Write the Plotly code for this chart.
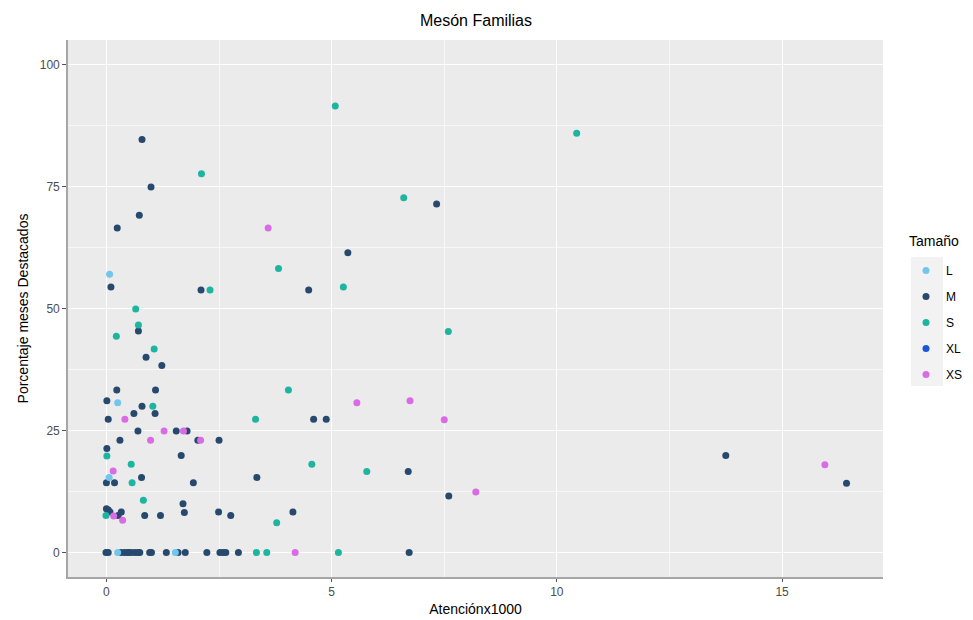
import plotly.graph_objects as go

# ---- data ----
sizes = ["L", "M", "S", "XL", "XS"]

L_x = [0.07, 0.25, 0.06, 0.25, 1.53]
L_y = [57.0, 30.7, 15.4, 0.0, 0.0]

M_x = [0.79, 0.99, 0.73, 0.24, 7.33, 5.36, 0.10, 2.10, 4.49, 0.71, 0.88, 1.23,
       0.23, 1.09, 0.01, 0.79, 0.61, 1.08, 0.04, 4.60, 4.88, 0.70, 1.55, 1.79,
       0.30, 2.03, 2.50, 0.01, 1.66, 13.75, 6.70, 0.78, 3.34, 0.00, 0.18, 1.93,
       16.43, 7.60, 1.70, 0.00, 0.04, 0.08, 0.26, 0.33, 0.85, 1.20, 1.73, 2.49,
       2.76, 4.14,
       -0.01, 0.04, 0.32, 0.40, 0.48, 0.55, 0.63, 0.70, 0.74, 0.96, 1.00, 1.33,
       1.59, 1.75, 2.23, 2.52, 2.59, 2.65, 2.93, 6.72]
M_y = [84.6, 74.9, 69.1, 66.5, 71.4, 61.4, 54.4, 53.8, 53.8, 45.4, 40.0, 38.3,
       33.3, 33.3, 31.1, 30.0, 28.5, 28.5, 27.3, 27.3, 27.3, 24.9, 24.9, 24.9,
       23.0, 23.0, 23.0, 21.3, 19.9, 19.9, 16.6, 15.4, 15.4, 14.3, 14.3, 14.3,
       14.2, 11.6, 10.0, 9.0, 8.7, 8.3, 7.6, 8.3, 7.6, 7.6, 8.2, 8.3,
       7.6, 8.3,
       0, 0, 0, 0, 0, 0, 0, 0, 0, 0, 0, 0,
       0, 0, 0, 0, 0, 0, 0, 0]

S_x = [5.08, 10.44, 2.11, 6.60, 3.82, 5.26, 2.30, 0.65, 0.71, 7.59, 0.22, 1.06,
       4.04, 1.03, 3.31, 0.01, 0.55, 4.56, 5.78, 0.57, 0.82, -0.01, 3.78,
       3.33, 3.56, 5.15]
S_y = [91.5, 85.9, 77.6, 72.7, 58.2, 54.4, 53.8, 49.9, 46.6, 45.3, 44.3, 41.7,
       33.3, 30.0, 27.3, 19.8, 18.1, 18.1, 16.6, 14.3, 10.7, 7.6, 6.1,
       0, 0, 0]

XL_x = [0.48]
XL_y = [0.0]

XS_x = [3.59, 6.74, 5.56, 0.41, 7.50, 1.28, 1.71, 0.98, 2.09, 15.95, 0.15, 8.20,
        0.16, 0.36, 4.19]
XS_y = [66.5, 31.1, 30.7, 27.3, 27.2, 24.9, 24.9, 23.0, 23.0, 18.0, 16.7, 12.4,
        7.5, 6.6, 0.0]

colors = {"L": "#72C6EE", "M": "#27496D", "S": "#1DB59F", "XL": "#1A56D8", "XS": "#DA6BE6"}
xs = {"L": L_x, "M": M_x, "S": S_x, "XL": XL_x, "XS": XS_x}
ys = {"L": L_y, "M": M_y, "S": S_y, "XL": XL_y, "XS": XS_y}

x_ticks = [0, 5, 10, 15]
y_ticks = [0, 25, 50, 75, 100]
legend_title = "Tamaño"

FONT = "Liberation Sans, Arial, sans-serif"

fig = go.Figure()
draw_order = ["XL", "M", "L", "S", "XS"]
for s in draw_order:
    fig.add_trace(go.Scatter(
        x=xs[s], y=ys[s], mode="markers", name=s, legendgroup=s,
        legendrank=sizes.index(s) + 1,
        marker=dict(size=7, color=colors[s], line=dict(width=0)),
    ))

W, H = 973, 620
L_M, R_M, T_M, B_M = 68, 90, 40, 43
pw = W - L_M - R_M
ph = H - T_M - B_M

def px2paper_x(px):
    return (px - L_M) / pw

def px2paper_y(py):
    return (H - B_M - py) / ph

fig.add_shape(type="rect", xref="paper", yref="paper",
              x0=px2paper_x(911), x1=px2paper_x(943),
              y0=px2paper_y(386), y1=px2paper_y(257),
              fillcolor="#F2F2F2", line=dict(width=0), layer="below")

fig.add_annotation(text=legend_title, xref="paper", yref="paper",
                   x=px2paper_x(907), y=px2paper_y(241), xanchor="left", yanchor="middle",
                   showarrow=False, font=dict(size=14, color="#000000"))

fig.update_layout(
    width=W, height=H,
    margin=dict(l=L_M, r=R_M, t=T_M, b=B_M, autoexpand=False),
    paper_bgcolor="white",
    plot_bgcolor="#EBEBEB",
    font=dict(family=FONT, color="#000000"),
    title=dict(text="Mesón Familias", x=px2paper_x(476), xref="paper", xanchor="center",
               y=1 - 20 / H, yanchor="middle", font=dict(size=16, color="#000000")),
    showlegend=True,
    legend=dict(
        x=px2paper_x(906), xanchor="left", y=px2paper_y(256), yanchor="top",
        font=dict(size=12, color="#000000"),
        bgcolor="rgba(0,0,0,0)", tracegroupgap=7, itemwidth=30,
    ),
    xaxis=dict(
        range=[-0.853, 17.24], tickvals=x_ticks, ticktext=[str(v) for v in x_ticks],
        automargin=False,
        showgrid=True, gridcolor="#FFFFFF", gridwidth=1.2, zeroline=False,
        minor=dict(dtick=2.5, tick0=0, showgrid=True, gridcolor="#F7F7F7", gridwidth=0.6),
        showline=True, linecolor="#A6A6A6", linewidth=1.6,
        ticks="outside", ticklen=3, tickcolor="#555555", tickwidth=1,
        tickfont=dict(size=12, color="#4D4D4D"),
        title=dict(text="Atenciónx1000", font=dict(size=14, color="#000000"), standoff=6),
    ),
    yaxis=dict(
        range=[-5.0, 105.0], tickvals=y_ticks, ticktext=[str(v) for v in y_ticks],
        automargin=False,
        showgrid=True, gridcolor="#FFFFFF", gridwidth=1.2, zeroline=False,
        minor=dict(dtick=12.5, tick0=0, showgrid=True, gridcolor="#F7F7F7", gridwidth=0.6),
        showline=True, linecolor="#A6A6A6", linewidth=1.6,
        ticks="outside", ticklen=4, tickcolor="#555555", tickwidth=1,
        tickfont=dict(size=12, color="#4D4D4D"),
        title=dict(text="Porcentaje meses Destacados", font=dict(size=14, color="#000000"), standoff=8),
    ),
)

fig.write_html("out.html", config={"displayModeBar": False},
               post_script="document.body.style.margin='0';")
